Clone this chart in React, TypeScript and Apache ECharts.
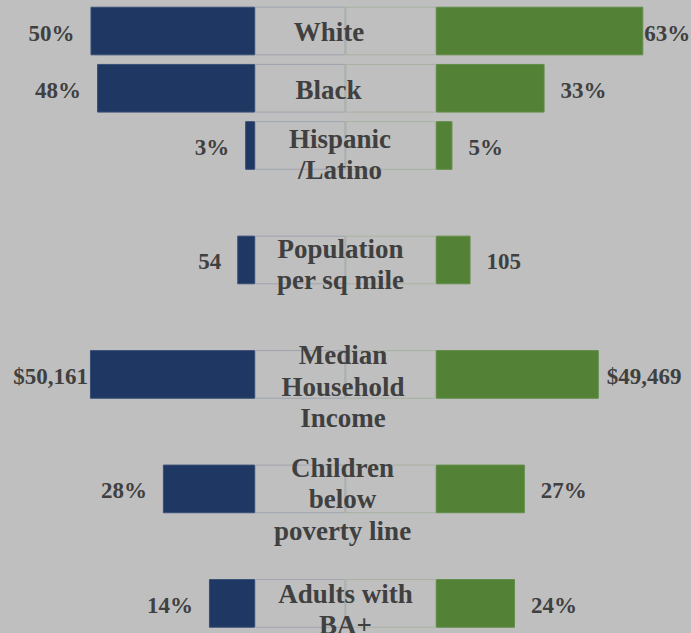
import React, { useEffect, useRef } from 'react';
import * as echarts from 'echarts';

// ---- data ----
const categories = [
  'White',
  'Black',
  'Hispanic\n/Latino',
  'Population\nper sq mile',
  'Median\nHousehold\nIncome',
  'Children\nbelow\npoverty line',
  'Adults with\nBA+',
];
const leftValues = [50, 48, 3, 54, 50161, 28, 14];
const rightValues = [63, 33, 5, 105, 49469, 27, 24];
const leftLabels = ['50%', '48%', '3%', '54', '$50,161', '28%', '14%'];
const rightLabels = ['63%', '33%', '5%', '105', '$49,469', '27%', '24%'];
// plotting units per raw unit (percent rows 1:1, density /10, income /1000)
const plotScale = [1, 1, 1, 0.1, 0.001, 1, 1];

// axis rows: categories separated by blank gap rows
const axisRows = [
  'White', 'Black', 'Hispanic\n/Latino', 'gap-1',
  'Population\nper sq mile', 'gap-2',
  'Median\nHousehold\nIncome', 'gap-3',
  'Children\nbelow\npoverty line', 'gap-4',
  'Adults with\nBA+',
];

// ---- styles ----
const BG = '#bfbfbf';
const NAVY = '#1f3763';
const GREEN = '#538135';
const TEXT = '#404040';
const SPACER = 27.5; // half width of the centre label box (axis units)
const labelShift: [number, number][] = [
  [-16.5, 1], [-17, 1.5], [-5.5, 9], [-5, 4.5], [-2.5, 12.5], [-3, 10.5], [0, 6],
];
const leftDistance: Record<number, number> = { 4: 2 };
const rightDistance: Record<number, number> = { 0: 1, 4: 8 };

export default function App() {
  const ref = useRef<HTMLDivElement>(null);

  useEffect(() => {
    if (!ref.current) return;
    const chart = echarts.init(ref.current, undefined, { renderer: 'svg' });
    const rowIndex = categories.map((c) => axisRows.indexOf(c));
    const empty = () => axisRows.map(() => '-' as any);

    const leftSpacer = empty();
    const rightSpacer = empty();
    const leftBar = empty();
    const rightBar = empty();
    categories.forEach((_, i) => {
      const r = rowIndex[i];
      leftSpacer[r] = -SPACER;
      rightSpacer[r] = SPACER;
      leftBar[r] = {
        value: -leftValues[i] * plotScale[i],
        label: { formatter: leftLabels[i], distance: leftDistance[i] ?? 16 },
      };
      rightBar[r] = {
        value: rightValues[i] * plotScale[i],
        label: { formatter: rightLabels[i], distance: rightDistance[i] ?? 16 },
      };
    });

    const valueLabel = {
      show: true,
      color: TEXT,
      fontFamily: '"Liberation Serif", serif',
      fontWeight: 'bold',
      fontSize: 23,
      offset: [0, 2],
    };

    chart.setOption({
      animation: false,
      backgroundColor: BG,
      grid: { left: 0, right: 0, top: 2.4, bottom: 1, containLabel: false },
      xAxis: { type: 'value', min: -105, max: 105, show: false },
      yAxis: {
        type: 'category',
        data: axisRows,
        inverse: true,
        show: false,
      },
      series: [
        {
          type: 'bar',
          stack: 'all',
          barWidth: '85%',
          data: leftSpacer,
          itemStyle: { color: 'transparent', borderColor: '#9fa4ae', borderWidth: 1 },
          silent: true,
        },
        {
          type: 'bar',
          stack: 'all',
          data: leftBar,
          itemStyle: { color: NAVY, borderColor: '#3a4f76', borderWidth: 1 },
          label: { ...valueLabel, position: 'left' },
        },
        {
          type: 'bar',
          stack: 'all',
          data: rightSpacer,
          itemStyle: { color: 'transparent', borderColor: '#a7b1a1', borderWidth: 1 },
          silent: true,
        },
        {
          type: 'bar',
          stack: 'all',
          data: rightBar,
          itemStyle: { color: GREEN, borderColor: '#628c48', borderWidth: 1 },
          label: { ...valueLabel, position: 'right' },
        },
        {
          type: 'custom',
          z: 10,
          data: categories.map((_, i) => [0, rowIndex[i], i]),
          encode: { x: 0, y: 1 },
          renderItem: (params: any, api: any) => {
            const i = api.value(2);
            const pt = api.coord([0, api.value(1)]);
            const [dx, dy] = labelShift[i];
            return {
              type: 'text',
              x: pt[0] + dx,
              y: pt[1] + dy,
              style: {
                text: categories[i],
                fill: TEXT,
                fontFamily: '"Liberation Serif", serif',
                fontWeight: 'bold',
                fontSize: 27,
                lineHeight: 31.5,
                align: 'center',
                verticalAlign: 'middle',
              },
            };
          },
        },
      ],
    });
    return () => chart.dispose();
  }, []);

  return (
    <div
      ref={ref}
      style={{ position: 'absolute', left: 0, top: 0, width: 691, height: 633 }}
    />
  );
}
